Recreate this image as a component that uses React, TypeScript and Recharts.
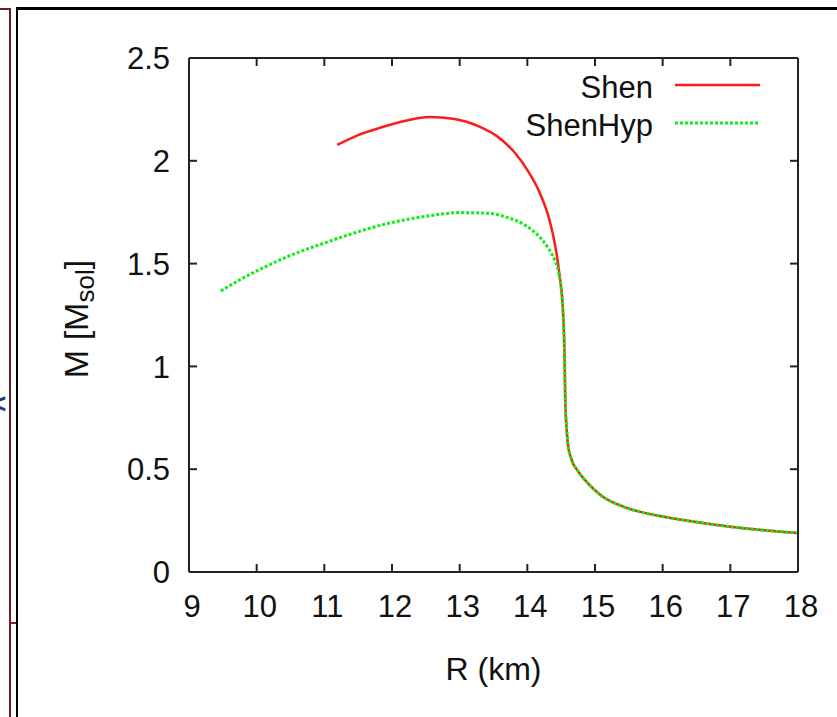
import { LineChart, Line, XAxis, YAxis, Legend } from 'recharts';

// values: R in km, M in solar masses
const shenHeadR = [11.19, 11.5, 11.82, 12.2, 12.56, 12.9, 13.1, 13.3, 13.55, 13.8, 14.02, 14.19, 14.32, 14.41, 14.47];
const shenHeadM = [2.077, 2.125, 2.16, 2.195, 2.213, 2.205, 2.19, 2.165, 2.12, 2.045, 1.945, 1.84, 1.72, 1.59, 1.46];

const hypHeadR = [9.47, 9.8, 10.1, 10.5, 11.0, 11.5, 12.0, 12.5, 13.0, 13.4, 13.7, 13.95, 14.15, 14.3, 14.4, 14.46, 14.5];
const hypHeadM = [1.367, 1.43, 1.48, 1.54, 1.6, 1.655, 1.7, 1.73, 1.748, 1.745, 1.725, 1.69, 1.64, 1.58, 1.52, 1.46, 1.38];

// both curves coincide below ~1.4 M_sol
const tailR = [14.53, 14.55, 14.56, 14.58, 14.6, 14.65, 14.75, 14.9, 15.1, 15.4, 15.7, 16.0, 16.5, 17.0, 17.5, 18.0];
const tailM = [1.25, 1.05, 0.85, 0.7, 0.62, 0.55, 0.49, 0.43, 0.37, 0.32, 0.29, 0.27, 0.243, 0.22, 0.203, 0.19];

const xTicks = [9, 10, 11, 12, 13, 14, 15, 16, 17, 18];
const yTicks = [0, 0.5, 1, 1.5, 2, 2.5];

const FONT = '"Liberation Sans", Arial, Helvetica, sans-serif';

const toPoints = (r: number[], m: number[]) => r.map((x, i) => ({ r: x, m: m[i] }));

const shenData = toPoints([...shenHeadR, ...tailR], [...shenHeadM, ...tailM]);
const hypData = toPoints([...hypHeadR, ...tailR], [...hypHeadM, ...tailM]);

// Shen sits on the bottom/left axes, ShenHyp on the mirrored top/right ones (same domains)
const SERIES = [
  { name: 'Shen', color: '#ff1a1a', data: shenData, dash: undefined, width: 2.5, xId: 'b', yId: 'l' },
  { name: 'ShenHyp', color: '#11ee11', data: hypData, dash: '3 2', width: 3, xId: 't', yId: 'rt' },
];

const XTick = ({ x, y, payload }: any) => (
  <text x={x + 3} y={y} dy="0.71em" textAnchor="middle" fontSize={31} fontFamily={FONT} fill="#111">
    {payload.value}
  </text>
);

const YTick = ({ x, y, payload }: any) => (
  <text x={x} y={y} dy="0.36em" textAnchor="end" fontSize={31} fontFamily={FONT} fill="#111">
    {payload.value}
  </text>
);

const NoTick = () => <g />;

const XLabel = ({ viewBox }: any) => (
  <text
    x={viewBox.x + viewBox.width / 2}
    y={669}
    textAnchor="middle"
    dominantBaseline="central"
    fontSize={32}
    fontFamily={FONT}
    fill="#111"
  >
    R (km)
  </text>
);

const YLabel = ({ viewBox }: any) => {
  const cx = viewBox.x + 37;
  const cy = viewBox.y + viewBox.height / 2 + 4;
  return (
    <text
      transform={`translate(${cx},${cy}) rotate(-90)`}
      textAnchor="middle"
      dominantBaseline="central"
      fontSize={34}
      fontFamily={FONT}
      fill="#111"
    >
      M [M<tspan dy={9} fontSize={26}>sol</tspan><tspan dy={-9}>]</tspan>
    </text>
  );
};

const renderLegend = () => (
  <svg width={300} height={90}>
    {SERIES.map((s, i) => (
      <g key={s.name}>
        <text
          x={173}
          y={27 + i * 38}
          textAnchor="end"
          dominantBaseline="central"
          fontSize={31}
          fontFamily={FONT}
          fill="#111"
        >
          {s.name}
        </text>
        <line
          x1={195}
          x2={280}
          y1={25 + i * 38}
          y2={25 + i * 38}
          stroke={s.color}
          strokeWidth={s.width}
          strokeDasharray={s.dash}
        />
      </g>
    ))}
  </svg>
);

const frame: React.CSSProperties = { position: 'absolute' };

export default function App() {
  return (
    <div style={{ position: 'absolute', left: 0, top: 0, width: 837, height: 717, background: '#fff', overflow: 'hidden' }}>
      {/* page frame bits around the figure */}
      <div style={{ ...frame, left: 0, top: 8, width: 11, height: 2, background: '#6b1f24' }} />
      <div style={{ ...frame, left: 9, top: 8, width: 2, height: 709, background: '#6b1f24' }} />
      <div style={{ ...frame, left: 11, top: 622, width: 5, height: 2, background: '#8b1f24' }} />
      <div style={{ ...frame, left: 16, top: 8, width: 2, height: 709, background: '#000' }} />
      <div style={{ ...frame, left: 16, top: 7, width: 821, height: 3, background: '#000' }} />
      <div style={{ ...frame, left: -10, top: 388, fontSize: 28, fontWeight: 700, color: '#1f3a78', fontFamily: FONT }}>&lt;</div>

      <div style={{ ...frame, left: 0, top: 0 }}>
        <LineChart width={837} height={717} margin={{ top: 57, right: 38, bottom: 35, left: 39 }}>
          <XAxis
            xAxisId="b"
            dataKey="r"
            type="number"
            domain={[9, 18]}
            ticks={xTicks}
            interval={0}
            allowDataOverflow
            height={110}
            tickSize={-8}
            tickMargin={31}
            tick={<XTick />}
            stroke="#222"
            strokeWidth={2}
            label={<XLabel />}
          />
          <XAxis
            xAxisId="t"
            orientation="top"
            dataKey="r"
            type="number"
            domain={[9, 18]}
            ticks={xTicks}
            interval={0}
            allowDataOverflow
            height={1}
            tickSize={-8}
            tick={<NoTick />}
            stroke="#222"
            strokeWidth={2}
          />
          <YAxis
            yAxisId="l"
            type="number"
            domain={[0, 2.5]}
            ticks={yTicks}
            interval={0}
            allowDataOverflow
            width={150}
            tickSize={-8}
            tickMargin={27}
            tick={<YTick />}
            stroke="#222"
            strokeWidth={2}
            label={<YLabel />}
          />
          <YAxis
            yAxisId="rt"
            orientation="right"
            type="number"
            domain={[0, 2.5]}
            ticks={yTicks}
            interval={0}
            allowDataOverflow
            width={1}
            tickSize={-8}
            tick={<NoTick />}
            stroke="#222"
            strokeWidth={2}
          />
          <Legend
            content={renderLegend}
            layout="horizontal"
            verticalAlign="middle"
            align="center"
            wrapperStyle={{ left: 480, top: 60, width: 300, height: 90 }}
          />
          {SERIES.map((s) => (
            <Line
              key={s.name}
              xAxisId={s.xId}
              yAxisId={s.yId}
              data={s.data}
              dataKey="m"
              name={s.name}
              type="monotone"
              stroke={s.color}
              strokeWidth={s.width}
              strokeDasharray={s.dash}
              dot={false}
              activeDot={false}
              isAnimationActive={false}
            />
          ))}
        </LineChart>
      </div>
    </div>
  );
}
